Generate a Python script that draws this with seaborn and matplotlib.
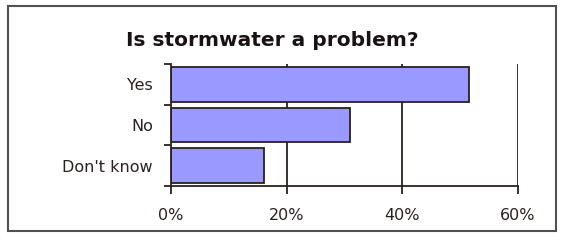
import pandas as pd
import numpy as np
import matplotlib
matplotlib.use("Agg")
import matplotlib.pyplot as plt
import seaborn as sns
from matplotlib.patches import Rectangle

# 응답 데이터 (%)
answers = ["Yes", "No", "Don't know"]
shares = [51.5, 31, 16]
x_ticks = [0, 20, 40, 60]
x_labels = ["0%", "20%", "40%", "60%"]

df = pd.DataFrame({"answer": answers, "share": shares})

ink = "#2b2020"
sns.set_style("white")
plt.rcParams["font.family"] = ["DejaVu Sans"]

fig = plt.figure(figsize=(5.61, 2.40), dpi=100)
ax = fig.add_axes([171 / 561, 1 - 186 / 240, 347 / 561, 122 / 240])

sns.barplot(x="share", y="answer", data=df, orient="h", color="#9999ff",
            saturation=1, width=0.85, edgecolor=ink, linewidth=1.3, ax=ax)

ax.set_xlim(0, 60)
ax.set_ylim(2.5, -0.5)
ax.set_xticks(x_ticks)
ax.set_xticklabels(x_labels)
for v in x_ticks[1:]:
    ax.axvline(v, color=ink, lw=1.3, zorder=0)

# 범주 경계에 눈금, 라벨은 가운데
ax.set_yticks([-0.5, 0.5, 1.5, 2.5])
ax.set_yticklabels([])
ax.set_yticks(range(len(answers)), minor=True)
ax.set_yticklabels(answers, minor=True)
ax.tick_params(axis="y", which="major", left=True, length=5, width=1.3, color=ink)
ax.tick_params(axis="y", which="minor", left=False, length=0, pad=13,
               labelsize=11.5, labelcolor=ink)
ax.tick_params(axis="x", bottom=True, length=6, width=1.3, color=ink, pad=10,
               labelsize=11.5, labelcolor=ink)

ax.set_xlabel("")
ax.set_ylabel("")
sns.despine(ax=ax, top=True, right=True)
for s in ["left", "bottom"]:
    ax.spines[s].set_color(ink)
    ax.spines[s].set_linewidth(1.3)

fig.text(272 / 561, 1 - 40 / 240, "Is stormwater a problem?", ha="center", va="center",
         fontsize=14.5, fontweight="bold", color="#1a1212")

fig.patches.append(Rectangle((8 / 561, 1 - 231 / 240), 548 / 561, 225 / 240,
                             transform=fig.transFigure, fill=False,
                             edgecolor="#555050", lw=1.5))

plt.savefig("out.png", dpi=100)
